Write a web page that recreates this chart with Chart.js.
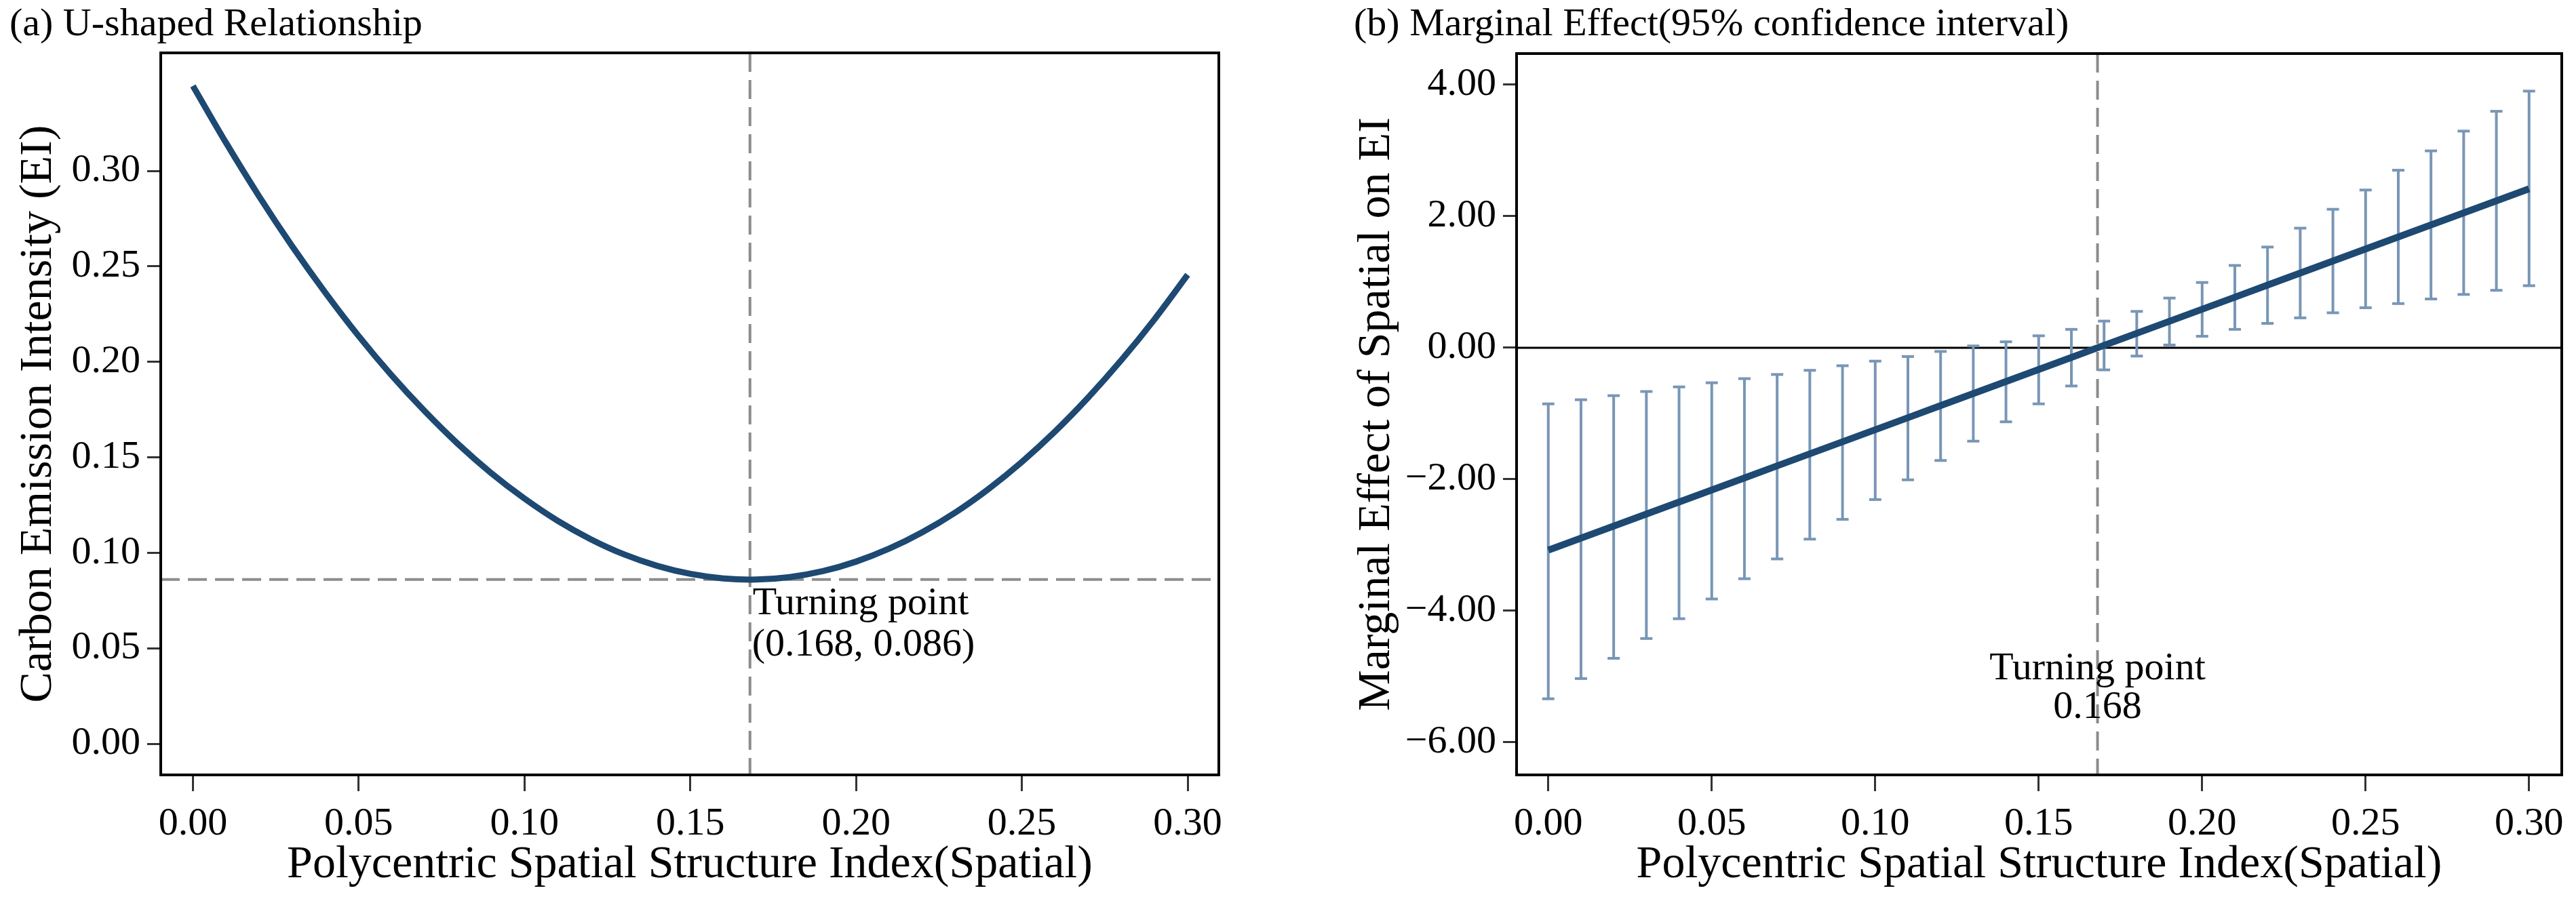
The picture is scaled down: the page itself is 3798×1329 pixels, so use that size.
<!DOCTYPE html>
<html><head><meta charset="utf-8">
<script src="https://cdn.jsdelivr.net/npm/chart.js@4.4.1/dist/chart.umd.min.js"></script>
<style>
html,body{margin:0;padding:0;background:#fff;}
#wrap{position:relative;width:3798px;height:1329px;overflow:hidden;background:#fff;}
canvas{position:absolute;top:0;}
#cA{left:0;}
#cB{left:1900px;}
</style></head><body>
<div id="wrap">
<canvas id="cA" width="1900" height="1329"></canvas>
<canvas id="cB" width="1898" height="1329"></canvas>
</div>
<script>
// ---------------- data ----------------
const spatial = [0.00,0.01,0.02,0.03,0.04,0.05,0.06,0.07,0.08,0.09,0.10,0.11,0.12,0.13,0.14,0.15,
                 0.16,0.17,0.18,0.19,0.20,0.21,0.22,0.23,0.24,0.25,0.26,0.27,0.28,0.29,0.30];
const carbonEI = [0.3445,0.3147,0.2866,0.2604,0.2361,0.2135,0.1928,0.1740,0.1569,0.1417,0.1284,
                  0.1168,0.1071,0.0992,0.0932,0.0890,0.0866,0.0860,0.0873,0.0904,0.0954,0.1022,
                  0.1108,0.1212,0.1335,0.1476,0.1635,0.1813,0.2009,0.2223,0.2456];
const marginalEffect = [-3.078,-2.895,-2.711,-2.528,-2.345,-2.162,-1.979,-1.795,-1.612,-1.429,-1.246,
                        -1.063,-0.879,-0.696,-0.513,-0.330,-0.147,0.037,0.220,0.403,0.586,0.769,
                        0.953,1.136,1.319,1.502,1.685,1.869,2.052,2.235,2.418];
const ciUpper = [-0.853,-0.790,-0.728,-0.665,-0.595,-0.532,-0.469,-0.406,-0.343,-0.273,-0.203,
                 -0.133,-0.056,0.028,0.091,0.182,0.280,0.406,0.553,0.756,0.993,1.252,
                 1.532,1.819,2.106,2.399,2.700,2.994,3.295,3.596,3.903];
const ciLower = [-5.338,-5.030,-4.722,-4.421,-4.120,-3.820,-3.512,-3.211,-2.910,-2.609,-2.308,
                 -2.008,-1.714,-1.420,-1.126,-0.853,-0.581,-0.336,-0.126,0.042,0.175,0.280,
                 0.371,0.455,0.532,0.609,0.672,0.742,0.811,0.874,0.944];
const xTicks = [0.00,0.05,0.10,0.15,0.20,0.25,0.30];
const yTicksA = [0.00,0.05,0.10,0.15,0.20,0.25,0.30];
const yTicksB = [-6,-4,-2,0,2,4];
const turningX = 0.168;
const turningY = 0.086;

const titleA = '(a) U-shaped Relationship';
const titleB = '(b) Marginal Effect(95% confidence interval)';
const xTitle = 'Polycentric Spatial Structure Index(Spatial)';
const yTitleA = 'Carbon Emission Intensity (EI)';
const yTitleB = 'Marginal Effect of Spatial on EI';
const noteTitle = 'Turning point';
const noteA = '(0.168, 0.086)';
const noteB = '0.168';

// ---------------- style ----------------
const SERIF = "'Liberation Serif','Times New Roman',Times,serif";
const LINE = '#1d4972';
const ERR = '#7896b6';
const DASH = '#8c8c8c';
Chart.defaults.font.family = SERIF;
Chart.defaults.color = '#000';

function fmt(v){ return (v < 0 ? '\u2212' : '') + Math.abs(v).toFixed(2); }

function makeScales(o){
  return {
    x: {
      type: 'linear', min: o.xmin, max: o.xmax,
      afterFit(s){ s.height = 186; },
      afterBuildTicks(s){ s.ticks = xTicks.map(v => ({value: v})); },
      ticks: {autoSkip: false, maxRotation: 0, padding: 14, font: {size: 58, family: SERIF}, color: '#000', callback: v => fmt(v)},
      grid: {drawOnChartArea: false, drawTicks: true, tickLength: 24, tickWidth: 3, tickColor: '#333'},
      border: {display: false},
      title: {display: true, text: xTitle, color: '#000', font: {size: 68, lineHeight: 1, family: SERIF}, padding: {top: 0, bottom: 19}}
    },
    y: {
      type: 'linear', min: o.ymin, max: o.ymax,
      afterFit(s){ s.width = o.yw; },
      afterBuildTicks(s){ s.ticks = o.yticks.map(v => ({value: v})); },
      ticks: {autoSkip: false, padding: 10, font: {size: 58, family: SERIF}, color: '#000', callback: v => fmt(v)},
      grid: {drawOnChartArea: false, drawTicks: true, tickLength: 20, tickWidth: 3, tickColor: '#333'},
      border: {display: false},
      title: {display: true, text: o.ytitle, color: '#000', font: {size: 68, lineHeight: 1, family: SERIF}, padding: {top: o.ytp, bottom: 0}}
    }
  };
}

function vline(ctx, x, top, bottom){ ctx.beginPath(); ctx.moveTo(x, top); ctx.lineTo(x, bottom); ctx.stroke(); }
function hline(ctx, y, left, right){ ctx.beginPath(); ctx.moveTo(left, y); ctx.lineTo(right, y); ctx.stroke(); }

const framePlugin = {
  id: 'frame',
  afterDraw(chart){
    const {ctx, chartArea: a} = chart;
    ctx.save(); ctx.strokeStyle = '#000'; ctx.lineWidth = 4;
    ctx.strokeRect(a.left, a.top, a.right - a.left, a.bottom - a.top);
    ctx.restore();
  }
};

// ---------------- panel (a) ----------------
const refA = {
  id: 'refA',
  beforeDatasetsDraw(chart){
    const {ctx, chartArea: a, scales: {x, y}} = chart;
    ctx.save();
    ctx.beginPath(); ctx.rect(a.left, a.top, a.right - a.left, a.bottom - a.top); ctx.clip();
    ctx.strokeStyle = DASH; ctx.lineWidth = 4; ctx.setLineDash([28, 12]);
    vline(ctx, x.getPixelForValue(turningX), a.top, a.bottom);
    hline(ctx, y.getPixelForValue(turningY), a.left, a.right);
    ctx.restore();
  },
  afterDatasetsDraw(chart){
    const {ctx, scales: {x, y}} = chart;
    const px = x.getPixelForValue(turningX), py = y.getPixelForValue(turningY);
    ctx.save();
    ctx.fillStyle = '#000'; ctx.font = '58px ' + SERIF; ctx.textAlign = 'left'; ctx.textBaseline = 'alphabetic';
    ctx.fillText(noteTitle, px + 4, py + 51);
    ctx.fillText(noteA, px + 3, py + 112);
    ctx.restore();
  }
};

new Chart(document.getElementById('cA'), {
  type: 'scatter',
  data: {datasets: [{
    data: spatial.map((v, i) => ({x: v, y: carbonEI[i]})),
    showLine: true, borderColor: LINE, borderWidth: 9, pointRadius: 0, tension: 0.3, fill: false
  }]},
  options: {
    responsive: false, animation: false, devicePixelRatio: 1, events: [],
    layout: {padding: {left: 14, top: 0, right: 103, bottom: 0}},
    plugins: {
      legend: {display: false}, tooltip: {enabled: false},
      title: {display: true, text: titleA, align: 'start', color: '#000', font: {size: 58, lineHeight: 1, weight: 'normal', family: SERIF}, padding: {top: 8, bottom: 12}}
    },
    scales: makeScales({xmin: -0.0097, xmax: 0.3094, ymin: -0.0163, ymax: 0.3618, yw: 223, yticks: yTicksA, ytitle: yTitleA, ytp: 9})
  },
  plugins: [refA, framePlugin]
});

// ---------------- panel (b) ----------------
const refB = {
  id: 'refB',
  beforeDatasetsDraw(chart){
    const {ctx, chartArea: a, scales: {x, y}} = chart;
    ctx.save();
    ctx.beginPath(); ctx.rect(a.left, a.top, a.right - a.left, a.bottom - a.top); ctx.clip();
    ctx.strokeStyle = DASH; ctx.lineWidth = 4; ctx.setLineDash([28, 12]);
    vline(ctx, x.getPixelForValue(turningX), a.top, a.bottom);
    ctx.setLineDash([]);
    ctx.strokeStyle = '#000'; ctx.lineWidth = 3;
    hline(ctx, y.getPixelForValue(0), a.left, a.right);
    ctx.strokeStyle = ERR; ctx.lineWidth = 4;
    spatial.forEach((v, i) => {
      const px = x.getPixelForValue(v);
      const lo = y.getPixelForValue(ciLower[i]), hi = y.getPixelForValue(ciUpper[i]);
      vline(ctx, px, hi, lo);
      hline(ctx, hi, px - 9, px + 9);
      hline(ctx, lo, px - 9, px + 9);
    });
    ctx.restore();
  },
  afterDatasetsDraw(chart){
    const {ctx, scales: {x, y}} = chart;
    const px = x.getPixelForValue(turningX);
    ctx.save();
    ctx.fillStyle = '#000'; ctx.font = '58px ' + SERIF; ctx.textAlign = 'center'; ctx.textBaseline = 'alphabetic';
    ctx.fillText(noteTitle, px, y.getPixelForValue(-5.04));
    ctx.fillText(noteB, px, y.getPixelForValue(-5.63));
    ctx.restore();
  }
};

new Chart(document.getElementById('cB'), {
  type: 'scatter',
  data: {datasets: [{
    data: spatial.map((v, i) => ({x: v, y: marginalEffect[i]})),
    showLine: true, borderColor: LINE, borderWidth: 10, pointRadius: 0, tension: 0, fill: false
  }]},
  options: {
    responsive: false, animation: false, devicePixelRatio: 1, events: [],
    layout: {padding: {left: 96, top: 0, right: 21, bottom: 0}},
    plugins: {
      legend: {display: false}, tooltip: {enabled: false},
      title: {display: true, text: titleB, align: 'start', color: '#000', font: {size: 58, lineHeight: 1, weight: 'normal', family: SERIF}, padding: {top: 8, bottom: 13}}
    },
    scales: makeScales({xmin: -0.0097, xmax: 0.3100, ymin: -6.495, ymax: 4.474, yw: 240, yticks: yTicksB, ytitle: yTitleB, ytp: 0})
  },
  plugins: [refB, framePlugin]
});
</script>
</body></html>
